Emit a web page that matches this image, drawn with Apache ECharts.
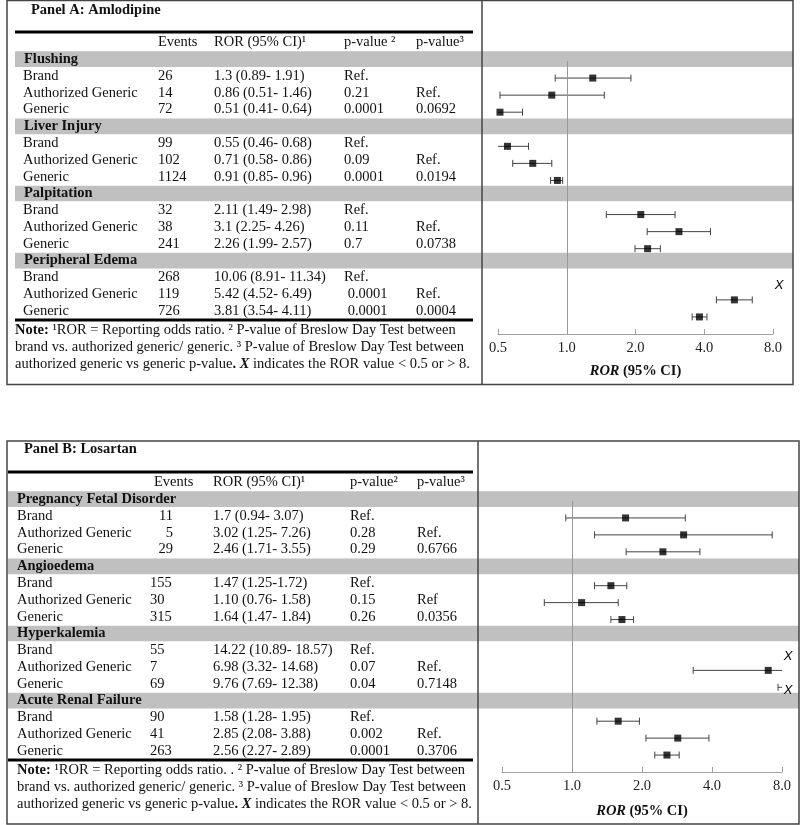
<!DOCTYPE html>
<html>
<head>
<meta charset="utf-8">
<script src="https://cdn.jsdelivr.net/npm/echarts@6/dist/echarts.min.js"></script>
<style>
  html, body { margin: 0; padding: 0; background: #fff; }
  #main { width: 800px; height: 825px; }
</style>
</head>
<body>
<div id="main"></div>
<script>
// ---- data ----
var arms = ["Brand", "Authorized Generic", "Generic"];

var groupsA = ["Flushing", "Liver Injury", "Palpitation", "Peripheral Edema"];
var eventsA = [26, 14, 72, 99, 102, 1124, 32, 38, 241, 268, 119, 726];
var rorA = [1.3, 0.86, 0.51, 0.55, 0.71, 0.91, 2.11, 3.1, 2.26, 10.06, 5.42, 3.81];
var loA = [0.89, 0.51, 0.41, 0.46, 0.58, 0.85, 1.49, 2.25, 1.99, 8.91, 4.52, 3.54];
var hiA = [1.91, 1.46, 0.64, 0.68, 0.86, 0.96, 2.98, 4.26, 2.57, 11.34, 6.49, 4.11];
var rorTextA = ["1.3 (0.89- 1.91)", "0.86 (0.51- 1.46)", "0.51 (0.41- 0.64)",
  "0.55 (0.46- 0.68)", "0.71 (0.58- 0.86)", "0.91 (0.85- 0.96)",
  "2.11 (1.49- 2.98)", "3.1 (2.25- 4.26)", "2.26 (1.99- 2.57)",
  "10.06 (8.91- 11.34)", "5.42 (4.52- 6.49)", "3.81 (3.54- 4.11)"];
var p2A = ["Ref.", "0.21", "0.0001", "Ref.", "0.09", "0.0001", "Ref.", "0.11", "0.7", "Ref.", " 0.0001", " 0.0001"];
var p3A = ["", "Ref.", "0.0692", "", "Ref.", "0.0194", "", "Ref.", "0.0738", "", "Ref.", "0.0004"];
var headerA = ["Events", "ROR (95% CI)¹", "p-value ²", "p-value³"];
var noteA = [
  "{b|Note:} ¹ROR = Reporting odds ratio. ² P-value of Breslow Day Test between",
  "brand vs. authorized generic/ generic. ³ P-value of Breslow Day Test between",
  "authorized generic vs generic p-value{b|.} {bi|X} indicates the ROR value < 0.5 or > 8."
];

var groupsB = ["Pregnancy Fetal Disorder", "Angioedema", "Hyperkalemia", "Acute Renal Failure"];
var eventsB = [11, 5, 29, 155, 30, 315, 55, 7, 69, 90, 41, 263];
var rorB = [1.7, 3.02, 2.46, 1.47, 1.10, 1.64, 14.22, 6.98, 9.76, 1.58, 2.85, 2.56];
var loB = [0.94, 1.25, 1.71, 1.25, 0.76, 1.47, 10.89, 3.32, 7.69, 1.28, 2.08, 2.27];
var hiB = [3.07, 7.26, 3.55, 1.72, 1.58, 1.84, 18.57, 14.68, 12.38, 1.95, 3.88, 2.89];
var rorTextB = ["1.7 (0.94- 3.07)", "3.02 (1.25- 7.26)", "2.46 (1.71- 3.55)",
  "1.47 (1.25-1.72)", "1.10 (0.76- 1.58)", "1.64 (1.47- 1.84)",
  "14.22 (10.89- 18.57)", "6.98 (3.32- 14.68)", "9.76 (7.69- 12.38)",
  "1.58 (1.28- 1.95)", "2.85 (2.08- 3.88)", "2.56 (2.27- 2.89)"];
var p2B = ["Ref.", "0.28", "0.29", "Ref.", "0.15", "0.26", "Ref.", "0.07", "0.04", "Ref.", "0.002", "0.0001"];
var p3B = ["", "Ref.", "0.6766", "", "Ref", "0.0356", "", "Ref.", "0.7148", "", "Ref.", "0.3706"];
var headerB = ["Events", "ROR (95% CI)¹", "p-value²", "p-value³"];
var noteB = [
  "{b|Note:} ¹ROR = Reporting odds ratio. . ² P-value of Breslow Day Test between",
  "brand vs. authorized generic/ generic. ³ P-value of Breslow Day Test between",
  "authorized generic vs generic p-value{b|.} {bi|X} indicates the ROR value < 0.5 or > 8."
];

// ---- layout ----
var FONT = "Liberation Serif";
var FS = 14.5;
var X_MIN = 0.5, X_MAX = 8;
var NOTE_ROWS = [16.13, 17.14, 18.15];
var layoutA = { label: 23, group: 24, events: 158, ror: 214, p2: 344, p3: 416, note: 15,
  hdr: [158, 214, 344, 416], bandX0: 15, bandX1: 793 };
var layoutB = { label: 17, group: 17, events: 150, ror: 213, p2: 350, p3: 417, note: 17,
  hdr: [154, 213, 350, 417], bandX0: 8, bandX1: 799, eventsRight: [173] };

var RICH = {
  b: { fontFamily: FONT, fontSize: FS, fontWeight: "bold", fill: "#111" },
  bi: { fontFamily: FONT, fontSize: FS, fontWeight: "bold", fontStyle: "italic", fill: "#111" }
};

function tableCells(L, header, groups, events, rorText, p2, p3, note) {
  var cells = [];
  header.forEach(function (h, i) { cells.push({ x: L.hdr[i], row: -1, text: h }); });
  groups.forEach(function (g, gi) {
    cells.push({ x: L.group, row: gi * 4, text: g, bold: true });
    for (var k = 0; k < 3; k++) {
      var i = gi * 3 + k, row = gi * 4 + 1 + k;
      cells.push({ x: L.label, row: row, text: arms[k] });
      if (L.eventsRight && L.eventsRight[gi]) {
        cells.push({ x: L.eventsRight[gi], row: row, text: String(events[i]), align: "right" });
      } else {
        cells.push({ x: L.events, row: row, text: String(events[i]) });
      }
      cells.push({ x: L.ror, row: row, text: rorText[i] });
      cells.push({ x: L.p2, row: row, text: p2[i] });
      if (p3[i]) cells.push({ x: L.p3, row: row, text: p3[i] });
    }
  });
  note.forEach(function (t, j) { cells.push({ x: L.note, row: NOTE_ROWS[j], text: t }); });
  return cells;
}

function textSeries(cells, idx) {
  return {
    type: "custom", xAxisIndex: idx, yAxisIndex: idx, z: 3, silent: true,
    data: cells.map(function (c, i) { return [c.x, c.row, i]; }),
    renderItem: function (params, api) {
      var c = cells[api.value(2)];
      var p = api.coord([api.value(0), api.value(1)]);
      return {
        type: "text", x: p[0], y: p[1],
        style: {
          text: c.text, fontFamily: FONT, fontSize: FS,
          fontWeight: c.bold ? "bold" : "normal", fill: "#111",
          align: c.align || "left", verticalAlign: "middle", rich: RICH
        }
      };
    }
  };
}

function bandSeries(L, groups, idx) {
  return {
    type: "custom", xAxisIndex: idx, yAxisIndex: idx, z: 1, silent: true,
    data: groups.map(function (g, gi) { return [L.bandX0, gi * 4]; }),
    renderItem: function (params, api) {
      var row = api.value(1);
      var a = api.coord([L.bandX0, row]);
      var b = api.coord([L.bandX1, row]);
      var h = api.size([0, 0.93])[1];
      return { type: "rect", shape: { x: a[0], y: a[1] - h / 2, width: b[0] - a[0], height: h },
        style: { fill: "#c0c0c0" } };
    }
  };
}

function plotRows(n) {
  var rows = [];
  for (var i = 0; i < n; i++) rows.push(Math.floor(i / 3) * 4 + 1 + (i % 3));
  return rows;
}

function plotSeries(ror, lo, hi, idx) {
  var rows = plotRows(ror.length);
  var bars = [], pts = [], xs = [];
  ror.forEach(function (v, i) {
    bars.push([rows[i], lo[i], hi[i]]);
    if (v <= X_MAX && v >= X_MIN) pts.push([v, rows[i]]);
    else xs.push([v > X_MAX ? X_MAX : X_MIN, rows[i]]);
  });
  return [
    {
      type: "custom", xAxisIndex: idx, yAxisIndex: idx, z: 4, silent: true,
      encode: { x: [1, 2], y: 0 },
      data: bars,
      renderItem: function (params, api) {
        var row = api.value(0), l = api.value(1), h = api.value(2);
        var a = Math.max(l, X_MIN), b = Math.min(h, X_MAX);
        if (a >= b) return null;
        var p1 = api.coord([a, row]), p2 = api.coord([b, row]);
        var st = { stroke: "#444", lineWidth: 1 };
        var ch = [{ type: "line", shape: { x1: p1[0], y1: p1[1], x2: p2[0], y2: p2[1] }, style: st }];
        if (l >= X_MIN) ch.push({ type: "line", shape: { x1: p1[0], y1: p1[1] - 3.5, x2: p1[0], y2: p1[1] + 3.5 }, style: st });
        if (h <= X_MAX) ch.push({ type: "line", shape: { x1: p2[0], y1: p2[1] - 3.5, x2: p2[0], y2: p2[1] + 3.5 }, style: st });
        return { type: "group", children: ch };
      }
    },
    {
      type: "scatter", xAxisIndex: idx, yAxisIndex: idx, z: 5, silent: true,
      symbol: "rect", symbolSize: 7, itemStyle: { color: "#000" },
      data: pts,
      markLine: {
        silent: true, symbol: "none", label: { show: false },
        lineStyle: { color: "#999", type: "solid", width: 1 },
        data: [{ xAxis: 1 }]
      }
    },
    {
      type: "custom", xAxisIndex: idx, yAxisIndex: idx, z: 5, silent: true,
      data: xs,
      renderItem: function (params, api) {
        var p = api.coord([api.value(0), api.value(1)]);
        return { type: "text", x: p[0] + 6, y: p[1] + 3,
          style: { text: "X", fontFamily: "Liberation Sans", fontSize: 13, fontStyle: "italic",
            fill: "#000", align: "center", verticalAlign: "middle" } };
      }
    }
  ];
}

function tableAxes(i) {
  return {
    x: { gridIndex: i, type: "value", min: 0, max: 800, show: false },
    y: { gridIndex: i, type: "value", min: -2, max: 19, inverse: true, show: false }
  };
}

function plotXAxis(gridIndex, nameGap) {
  return {
    gridIndex: gridIndex, type: "log", logBase: 2, min: X_MIN, max: X_MAX,
    axisLine: { show: true, onZero: false, lineStyle: { color: "#a0a0a0", width: 1 } },
    axisTick: { show: true, inside: true, length: 5, lineStyle: { color: "#a0a0a0" } },
    splitLine: { show: false },
    axisLabel: { fontFamily: FONT, fontSize: FS, color: "#222", margin: 7,
      formatter: function (v) { return (+v).toFixed(1); } },
    name: "{i|ROR} {b|(95% CI)}", nameLocation: "middle", nameGap: nameGap,
    nameTextStyle: {
      rich: {
        i: { fontFamily: FONT, fontSize: FS, fontWeight: "bold", fontStyle: "italic", color: "#111" },
        b: { fontFamily: FONT, fontSize: FS, fontWeight: "bold", color: "#111" }
      }
    }
  };
}

var cellsA = tableCells(layoutA, headerA, groupsA, eventsA, rorTextA, p2A, p3A, noteA);
var cellsB = tableCells(layoutB, headerB, groupsB, eventsB, rorTextB, p2B, p3B, noteB);

var chartDom = document.getElementById("main");
var myChart = echarts.init(chartDom);
var tA = tableAxes(0), tB = tableAxes(1);

var option = {
  animation: false,
  backgroundColor: "#fff",
  title: [
    { text: "Panel A: Amlodipine", left: 31, top: 3, padding: 0,
      textStyle: { fontFamily: FONT, fontSize: FS, fontWeight: "bold", color: "#111" } },
    { text: "Panel B: Losartan", left: 24, top: 442, padding: 0,
      textStyle: { fontFamily: FONT, fontSize: FS, fontWeight: "bold", color: "#111" } }
  ],
  grid: [
    { left: 0, width: 800, top: 25.6, height: 352.6 },
    { left: 0, width: 800, top: 465.6, height: 352.6 },
    { left: 498, width: 275, top: 61, height: 273 },
    { left: 502, width: 280, top: 501, height: 271 }
  ],
  xAxis: [tA.x, tB.x, plotXAxis(2, 30), plotXAxis(3, 32)],
  yAxis: [tA.y, tB.y,
    { gridIndex: 2, type: "value", min: 0, max: 16, inverse: true, show: false },
    { gridIndex: 3, type: "value", min: 0, max: 16, inverse: true, show: false }],
  graphic: [
    { type: "rect", z: 10, silent: true, shape: { x: 7, y: 0.5, width: 786, height: 384 },
      style: { fill: null, stroke: "#444", lineWidth: 1.5 } },
    { type: "line", z: 10, silent: true, shape: { x1: 482, y1: 0, x2: 482, y2: 384 },
      style: { stroke: "#444", lineWidth: 1.5 } },
    { type: "line", z: 10, silent: true, shape: { x1: 15, y1: 32, x2: 473, y2: 32 },
      style: { stroke: "#000", lineWidth: 3 } },
    { type: "line", z: 10, silent: true, shape: { x1: 15, y1: 320, x2: 473, y2: 320 },
      style: { stroke: "#000", lineWidth: 3 } },
    { type: "rect", z: 10, silent: true, shape: { x: 7, y: 441, width: 792, height: 383 },
      style: { fill: null, stroke: "#444", lineWidth: 1.5 } },
    { type: "line", z: 10, silent: true, shape: { x1: 478, y1: 441, x2: 478, y2: 824 },
      style: { stroke: "#444", lineWidth: 1.5 } },
    { type: "line", z: 10, silent: true, shape: { x1: 8, y1: 472, x2: 473, y2: 472 },
      style: { stroke: "#000", lineWidth: 3 } },
    { type: "line", z: 10, silent: true, shape: { x1: 8, y1: 760, x2: 473, y2: 760 },
      style: { stroke: "#000", lineWidth: 3 } }
  ],
  series: [
    bandSeries(layoutA, groupsA, 0),
    bandSeries(layoutB, groupsB, 1),
    textSeries(cellsA, 0),
    textSeries(cellsB, 1)
  ].concat(plotSeries(rorA, loA, hiA, 2)).concat(plotSeries(rorB, loB, hiB, 3))
};

option && myChart.setOption(option);
</script>
</body>
</html>
